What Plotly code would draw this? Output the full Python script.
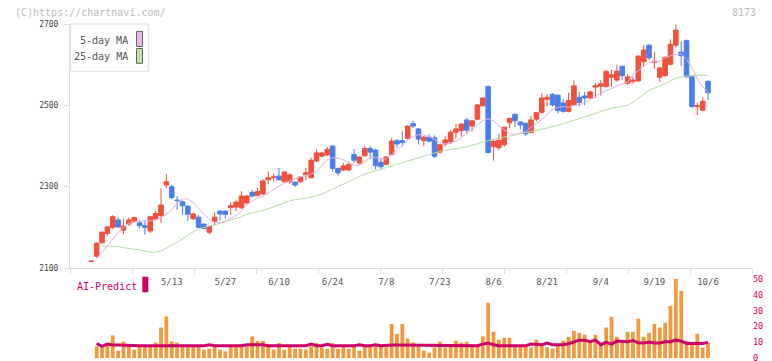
import plotly.graph_objects as go
import pandas as pd

# ---------------- data ----------------
holidays = ["2025-04-29", "2025-05-05", "2025-05-06", "2025-07-21",
            "2025-08-11", "2025-09-15", "2025-09-23"]
dates = [d.strftime("%Y-%m-%d") for d in
         pd.bdate_range("2025-04-17", "2025-10-06", freq="C", holidays=holidays)]

open_ = [2116,2129,2162,2185,2200,2218,2193,2208,2215,2211,
         2204,2191,2220,2229,2304,2300,2267,2263,2252,2221,
         2225,2208,2188,2215,2240,2240,2249,2250,2248,2260,
         2286,2278,2282,2317,2322,2326,2312,2312,2311,2312,
         2329,2322,2363,2375,2378,2400,2345,2341,2341,2379,
         2358,2376,2394,2390,2360,2355,2379,2413,2413,2419,
         2455,2442,2413,2422,2420,2385,2405,2410,2434,2438,
         2464,2449,2466,2499,2546,2398,2396,2403,2457,2478,
         2459,2456,2433,2466,2483,2515,2527,2525,2506,2485,
         2501,2520,2523,2518,2545,2547,2546,2569,2562,2596,
         2554,2559,2560,2607,2648,2606,2569,2573,2601,2648,
         2631,2659,2570,2497,2488,2559]
close = [2117,2161,2188,2201,2226,2201,2203,2218,2224,2204,
         2200,2226,2234,2255,2312,2273,2266,2253,2232,2233,
         2200,2197,2202,2225,2233,2232,2253,2262,2277,2277,
         2277,2288,2314,2322,2324,2317,2336,2329,2304,2324,
         2334,2365,2383,2383,2392,2345,2334,2351,2355,2365,
         2373,2394,2385,2352,2349,2373,2412,2405,2409,2449,
         2449,2417,2422,2412,2375,2403,2415,2434,2442,2454,
         2439,2462,2501,2518,2384,2412,2414,2446,2468,2462,
         2452,2430,2464,2482,2518,2520,2501,2487,2485,2512,
         2548,2507,2518,2533,2548,2553,2583,2575,2584,2573,
         2570,2562,2621,2636,2617,2608,2592,2618,2650,2685,
         2622,2570,2497,2499,2510,2531]
high = [2117,2163,2190,2203,2230,2224,2222,2224,2226,2218,
        2218,2226,2241,2296,2331,2304,2276,2266,2255,2236,
        2230,2210,2205,2237,2241,2241,2262,2266,2289,2280,
        2292,2297,2319,2338,2332,2346,2338,2330,2312,2326,
        2346,2371,2392,2386,2398,2401,2346,2358,2361,2393,
        2375,2400,2400,2393,2368,2375,2419,2417,2436,2451,
        2462,2444,2424,2429,2426,2405,2424,2440,2454,2456,
        2469,2464,2503,2520,2549,2414,2430,2448,2470,2480,
        2461,2458,2474,2484,2530,2527,2530,2527,2516,2531,
        2561,2533,2533,2535,2555,2562,2587,2587,2600,2598,
        2577,2571,2623,2648,2650,2632,2594,2620,2662,2699,
        2657,2662,2571,2506,2520,2561]
low = [2116,2124,2160,2180,2195,2200,2183,2204,2212,2198,
       2182,2186,2217,2211,2296,2270,2243,2231,2215,2218,
       2198,2195,2183,2205,2217,2222,2230,2240,2245,2257,
       2274,2278,2280,2306,2313,2315,2310,2306,2299,2310,
       2316,2320,2360,2372,2375,2337,2327,2338,2338,2358,
       2354,2374,2367,2343,2341,2352,2377,2396,2399,2416,
       2444,2404,2400,2408,2371,2381,2399,2405,2419,2423,
       2430,2435,2464,2497,2382,2364,2390,2398,2443,2446,
       2441,2425,2431,2461,2480,2497,2497,2480,2482,2483,
       2499,2497,2500,2516,2519,2524,2544,2545,2558,2562,
       2550,2553,2558,2595,2611,2590,2558,2571,2598,2643,
       2597,2568,2493,2476,2486,2513]

ma5 = [None,2126,2138,2154,2172,2188,2200,2210,2213,2214,
       2215,2216,2219,2224,2232,2243,2260,2270,2270,2262,
       2245,2232,2220,2212,2211,2216,2222,2229,2240,2256,
       2265,2272,2276,2285,2293,2302,2308,2315,2320,2324,
       2328,2331,2338,2353,2366,2371,2370,2366,2358,2353,
       2352,2360,2372,2372,2369,2368,2378,2390,2402,2414,
       2423,2428,2427,2423,2416,2408,2405,2407,2412,2420,
       2432,2440,2452,2462,2467,2462,2449,2440,2431,2428,
       2431,2435,2446,2456,2465,2478,2490,2495,2497,2495,
       2500,2501,2507,2513,2521,2530,2536,2541,2548,2552,
       2557,2575,2584,2595,2606,2607,2608,2617,2622,2625,
       2627,2613,2593,2565,2545,2533]
ma25 = [None,None,2154,2154,2154,2153,2150,2148,2147,2145,
        2142,2139,2139,2142,2148,2156,2163,2172,2180,2189,
        2195,2200,2203,2206,2210,2214,2218,2222,2226,2232,
        2235,2238,2242,2246,2250,2255,2260,2265,2268,2270,
        2271,2274,2278,2282,2288,2294,2300,2306,2312,2318,
        2326,2331,2335,2339,2343,2347,2352,2356,2359,2363,
        2367,2371,2375,2378,2382,2387,2389,2391,2393,2395,
        2398,2402,2406,2410,2413,2416,2420,2422,2424,2427,
        2431,2433,2435,2438,2441,2444,2447,2451,2455,2459,
        2463,2467,2471,2475,2480,2485,2489,2493,2495,2497,
        2500,2508,2518,2528,2537,2542,2547,2553,2560,2567,
        2570,2572,2573,2574,2574,2574]

volume = [None,7.4,6.7,8.4,14.3,4.6,10.5,8.8,5.3,7.4,
          7.4,7.4,9.7,19.3,26.3,10.5,9.7,8.4,7.4,7.4,
          7.4,5.3,5.9,8.4,5.3,4.2,7.4,7.4,7.4,7.4,
          13.7,10.9,10.9,8.4,5.3,9.5,5.3,7.4,5.9,5.9,
          5.3,7.4,9.5,6.7,5.9,9.5,5.9,7.4,5.9,7.4,
          4.6,8.4,7.4,7.4,8.4,6.7,21.6,15.3,21.6,12.2,
          9.7,7.4,4.6,3.4,6.7,10.3,6.7,7.4,10.9,9.7,
          10.3,7.4,7.4,13.7,34.9,16.6,11.6,12.8,12.8,7.4,
          7.4,7.4,6.7,11.6,8.4,6.7,5.9,9.0,10.9,13.4,
          17.2,16.0,14.7,10.5,14.7,8.4,19.3,26.1,13.4,10.5,
          16.6,16.6,24.8,13.4,16.0,21.6,19.3,22.3,33.0,50.0,
          42.4,10.9,9.7,15.3,6.5,9.7]
ai_predict = [None,9.2,7.4,8.8,8.2,8.2,8.0,7.8,7.8,7.8,
              7.8,7.8,7.8,7.8,7.8,7.8,7.8,7.8,7.8,7.8,
              7.8,7.8,8.4,7.8,7.8,7.8,7.8,7.8,7.8,8.4,
              8.4,8.4,8.4,7.8,7.8,7.8,7.8,7.8,7.8,7.8,
              7.8,8.8,7.8,7.8,8.6,7.8,7.8,7.8,7.8,7.8,
              8.4,7.8,7.8,8.4,7.8,8.2,8.2,8.2,8.2,8.2,
              8.2,7.8,7.8,7.8,7.8,7.8,7.8,7.8,7.8,7.8,
              7.8,7.8,7.8,8.8,9.5,8.4,7.8,7.8,7.8,7.8,
              7.8,7.8,8.8,8.4,8.4,9.5,8.4,8.4,8.4,9.0,
              10.0,11.3,11.3,10.3,11.3,8.4,9.9,8.8,10.7,10.7,
              10.3,11.1,9.5,9.5,9.9,9.5,9.5,10.3,10.3,11.3,
              10.7,9.2,9.2,9.2,9.2,9.9]

tick_dates = ["2025-05-13", "2025-05-27", "2025-06-10", "2025-06-24",
              "2025-07-08", "2025-07-23", "2025-08-06", "2025-08-21",
              "2025-09-04", "2025-09-19", "2025-10-06"]
tick_text = ["5/13", "5/27", "6/10", "6/24", "7/8", "7/23",
             "8/6", "8/21", "9/4", "9/19", "10/6"]
price_ticks = [2100, 2300, 2500, 2700]
vol_ticks = [0, 10, 20, 30, 40, 50]

# ---------------- style ----------------
MONO = "DejaVu Sans Mono"
RED = "#f0503c"
BLUE = "#4a7ee8"
PINK = "#e6b0e6"
GREEN = "#b4dca2"
ORANGE = "#f2983f"
MAGENTA = "#cc0066"
AXIS = "#dddddd"

fig = go.Figure()

fig.add_trace(go.Scatter(x=dates, y=ma25, mode="lines",
                         line=dict(color=GREEN, width=1),
                         xaxis="x", yaxis="y", showlegend=False, hoverinfo="skip"))
fig.add_trace(go.Scatter(x=dates, y=ma5, mode="lines",
                         line=dict(color=PINK, width=1),
                         xaxis="x", yaxis="y", showlegend=False, hoverinfo="skip"))
fig.add_trace(go.Candlestick(
    x=dates, open=open_, high=high, low=low, close=close,
    increasing=dict(line=dict(color=RED, width=1), fillcolor=RED),
    decreasing=dict(line=dict(color=BLUE, width=1), fillcolor=BLUE),
    whiskerwidth=0, xaxis="x", yaxis="y", showlegend=False))

fig.add_trace(go.Bar(x=dates, y=volume, marker=dict(color=ORANGE, line=dict(width=0)),
                     xaxis="x2", yaxis="y2", showlegend=False))
fig.add_trace(go.Scatter(x=dates, y=ai_predict, mode="lines",
                         line=dict(color=MAGENTA, width=3),
                         xaxis="x2", yaxis="y2", showlegend=False))

# dummy trace to carry the evenly spaced tick-mark axis
fig.add_trace(go.Scatter(x=[None], y=[None], xaxis="x3", yaxis="y",
                         showlegend=False, hoverinfo="skip"))

W, H = 772, 361
L, R, T, B = 70, 20, 24, 3
PW, PH = W - L - R, H - T - B


def px(xp):
    return (xp - L) / PW


def py(yp):
    return (H - B - yp) / PH


xrange_ = [-3.97, 123.2]

fig.update_layout(
    width=W, height=H,
    margin=dict(l=L, r=R, t=T, b=B, autoexpand=False),
    paper_bgcolor="white", plot_bgcolor="white",
    bargap=0.3, boxgap=0.15, boxgroupgap=0,
    showlegend=False,
    font=dict(family=MONO, color="#555555"),
    xaxis=dict(domain=[0, 1], anchor="y", type="category", range=xrange_,
               showline=True, linecolor=AXIS, linewidth=1, ticks="",
               tickmode="array", tickvals=tick_dates, ticktext=tick_text,
               tickfont=dict(family=MONO, size=9, color="#555555"),
               ticklabelstandoff=5,
               showgrid=False, zeroline=False, rangeslider=dict(visible=False)),
    xaxis3=dict(overlaying="x", anchor="y", range=[0, 11], tick0=0, dtick=1,
                ticks="outside", ticklen=5, tickcolor=AXIS, showticklabels=False,
                showline=False, showgrid=False, zeroline=False),
    yaxis=dict(domain=[py(268), 1], anchor="x", range=[2100, 2700],
               tickmode="array", tickvals=price_ticks,
               ticks="outside", ticklen=5, tickcolor=AXIS,
               showline=True, linecolor=AXIS, linewidth=1,
               tickfont=dict(family=MONO, size=8, color="#444444"),
               ticklabelstandoff=4,
               showgrid=False, zeroline=False),
    xaxis2=dict(domain=[0, 1], anchor="y2", type="category", matches="x",
                range=xrange_, showticklabels=False, showline=False, ticks="",
                showgrid=False, zeroline=False),
    yaxis2=dict(domain=[0, py(279)], anchor="x2", range=[0, 50], side="right",
                tickmode="array", tickvals=vol_ticks, ticks="",
                tickfont=dict(family=MONO, size=8.5, color=MAGENTA),
                ticklabeloverflow="allow",
                showline=False, showgrid=False, zeroline=False),
)

# legend box for moving averages
fig.add_shape(type="rect", xref="paper", yref="paper",
              x0=px(70.7), x1=px(148.3), y0=py(71.3), y1=py(24),
              line=dict(color=AXIS, width=1), fillcolor="white", layer="above")
fig.add_shape(type="rect", xref="paper", yref="paper",
              x0=px(136.5), x1=px(142.5), y0=py(46.5), y1=py(31.5),
              line=dict(color="#666666", width=1), fillcolor="#ebb8eb", layer="above")
fig.add_shape(type="rect", xref="paper", yref="paper",
              x0=px(136.5), x1=px(142.5), y0=py(63.3), y1=py(48.5),
              line=dict(color="#666666", width=1), fillcolor="#bfe3b0", layer="above")
fig.add_annotation(xref="paper", yref="paper", x=px(130), y=py(40.5),
                   text="5-day MA", showarrow=False, xanchor="right", yanchor="middle",
                   font=dict(family=MONO, size=10, color="#555555"))
fig.add_annotation(xref="paper", yref="paper", x=px(130), y=py(57),
                   text="25-day MA", showarrow=False, xanchor="right", yanchor="middle",
                   font=dict(family=MONO, size=10, color="#555555"))

# AI-Predict label
fig.add_annotation(xref="paper", yref="paper", x=px(75), y=py(286),
                   text="AI-Predict", showarrow=False, xanchor="left", yanchor="middle",
                   font=dict(family=MONO, size=10, color=MAGENTA))
fig.add_shape(type="rect", xref="paper", yref="paper",
              x0=px(142.3), x1=px(148.3), y0=py(292.3), y1=py(276.7),
              line=dict(width=0), fillcolor=MAGENTA)

# watermarks
fig.add_annotation(xref="paper", yref="paper", x=px(13), y=py(12.5),
                   text="(C)https://chartnavi.com/", showarrow=False,
                   xanchor="left", yanchor="middle",
                   font=dict(family=MONO, size=10, color="#bbbbbb"))
fig.add_annotation(xref="paper", yref="paper", x=px(758), y=py(12.5),
                   text="8173", showarrow=False, xanchor="right", yanchor="middle",
                   font=dict(family=MONO, size=10, color="#bbbbbb"))

fig.write_html("out.html",
               config={"displayModeBar": False},
               post_script="document.body.style.margin='0';document.body.style.padding='0';")
